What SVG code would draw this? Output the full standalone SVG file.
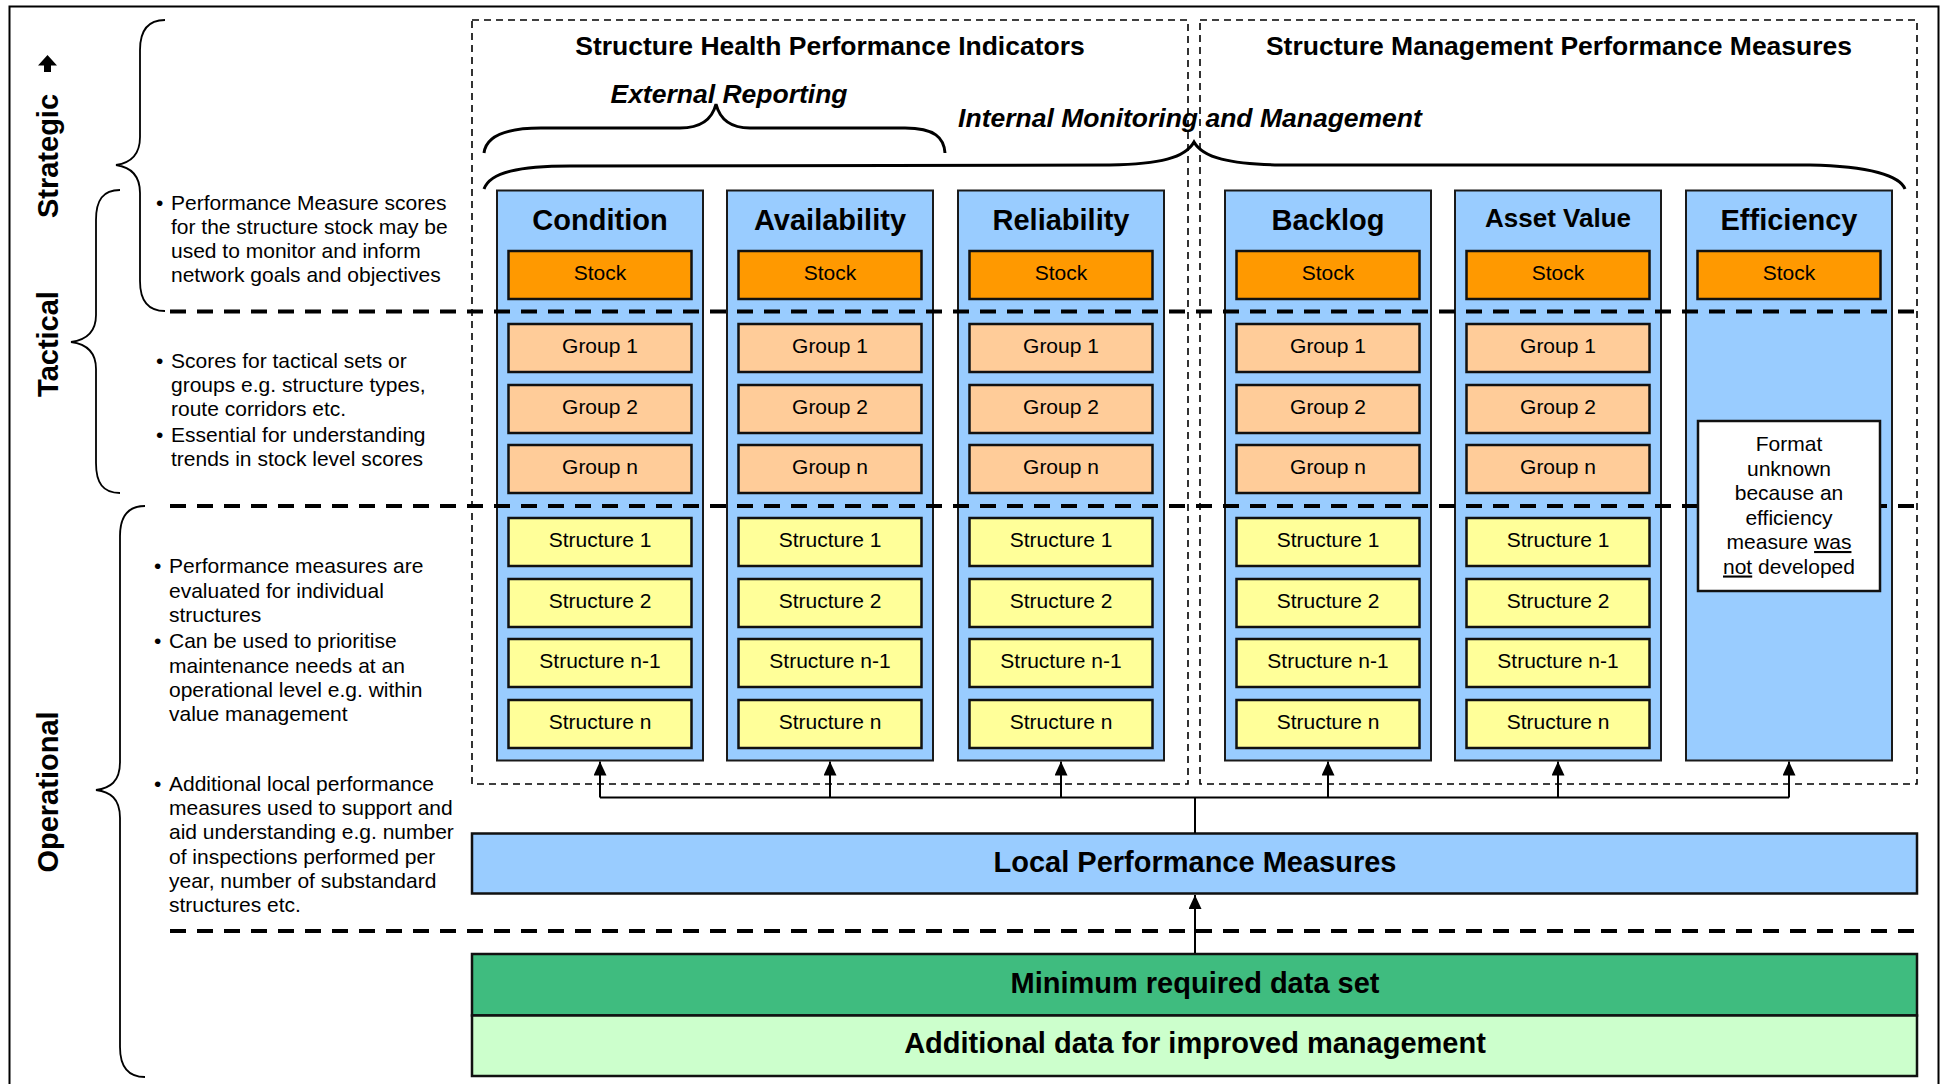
<svg xmlns="http://www.w3.org/2000/svg" width="1943" height="1084" viewBox="0 0 1943 1084">
<style>
text{font-family:"Liberation Sans",Arial,sans-serif;fill:#000}
.col{fill:#99CCFF;stroke:#1a1a1a;stroke-width:2}
.stock{fill:#FF9900;stroke:#111;stroke-width:2.5}
.grp{fill:#FFCC99;stroke:#111;stroke-width:2.5}
.str{fill:#FFFF99;stroke:#111;stroke-width:2.5}
.hdr{font-size:29px;font-weight:bold;text-anchor:middle}
.lbl{font-size:21px;text-anchor:middle}
.bul{font-size:21px}
.thin{fill:none;stroke:#000;stroke-width:1.6;stroke-dasharray:7 5}
.thick{stroke:#000;stroke-width:4;stroke-dasharray:16 11;fill:none}
.brace{fill:none;stroke:#000;stroke-width:3}
.vbrace{fill:none;stroke:#000;stroke-width:1.8}
.conn{fill:none;stroke:#000;stroke-width:2}
.side{font-size:29px;font-weight:bold;text-anchor:middle}
.title{font-size:26.5px;font-weight:bold;text-anchor:middle}
.ital{font-size:26.5px;font-weight:bold;font-style:italic;text-anchor:middle}
.big{font-size:29px;font-weight:bold;text-anchor:middle}
</style>
<defs>
<marker id="arr" markerUnits="userSpaceOnUse" markerWidth="14" markerHeight="13" viewBox="0 0 14 13" refX="14" refY="6.5" orient="auto">
<path d="M0,0 L14,6.5 L0,13 z" fill="#000"/>
</marker>
</defs>

<rect x="9.5" y="6.5" width="1929" height="1100" fill="none" stroke="#000" stroke-width="2"/>

<g id="frames">
<rect class="thin" x="472" y="20" width="716" height="764"/>
<rect class="thin" x="1200" y="20" width="717" height="764"/>
</g>

<g id="left-labels">
<text class="side" transform="translate(58,156) rotate(-90)">Strategic</text>
<polygon points="47.5,55 57,65.5 51,65.5 51,72 44,72 44,65.5 38,65.5" fill="#000"/>
<text class="side" transform="translate(58,344) rotate(-90)">Tactical</text>
<text class="side" transform="translate(58,792) rotate(-90)">Operational</text>
</g>

<g id="side-braces">
<path class="vbrace" d="M165,20 C148,20 140,30 140,50 L140,137 C140,156 130,163 116,165 C130,167 140,174 140,193 L140,281 C140,301 148,311 165,311"/>
<path class="vbrace" d="M120,190 C103,190 96,200 96,220 L96,315 C96,333 86,340 71,342 C86,344 96,351 96,369 L96,463 C96,483 103,493 120,493"/>
<path class="vbrace" d="M145,506 C128,506 120,516 120,536 L120,762 C120,782 110,788 96,790 C110,792 120,798 120,818 L120,1047 C120,1067 128,1077 145,1077"/>
</g>

<g id="bullets">
<text class="bul"><tspan x="156" y="209.5">•</tspan><tspan x="171" y="209.5">Performance Measure scores</tspan><tspan x="171" y="233.7">for the structure stock may be</tspan><tspan x="171" y="257.9">used to monitor and inform</tspan><tspan x="171" y="282.1">network goals and objectives</tspan></text>
<text class="bul"><tspan x="156" y="367.7">•</tspan><tspan x="171" y="367.7">Scores for tactical sets or</tspan><tspan x="171" y="391.9">groups e.g. structure types,</tspan><tspan x="171" y="416.1">route corridors etc.</tspan><tspan x="156" y="442">•</tspan><tspan x="171" y="442">Essential for understanding</tspan><tspan x="171" y="466.2">trends in stock level scores</tspan></text>
<text class="bul"><tspan x="154" y="573.3">•</tspan><tspan x="169" y="573.3">Performance measures are</tspan><tspan x="169" y="597.6">evaluated for individual</tspan><tspan x="169" y="621.9">structures</tspan><tspan x="154" y="648.3">•</tspan><tspan x="169" y="648.3">Can be used to prioritise</tspan><tspan x="169" y="672.6">maintenance needs at an</tspan><tspan x="169" y="696.9">operational level e.g. within</tspan><tspan x="169" y="721.2">value management</tspan></text>
<text class="bul"><tspan x="154" y="790.7">•</tspan><tspan x="169" y="790.7">Additional local performance</tspan><tspan x="169" y="815">measures used to support and</tspan><tspan x="169" y="839.3">aid understanding e.g. number</tspan><tspan x="169" y="863.6">of inspections performed per</tspan><tspan x="169" y="887.9">year, number of substandard</tspan><tspan x="169" y="912.2">structures etc.</tspan></text>
</g>

<g id="headings">
<text class="title" x="830" y="55">Structure Health Performance Indicators</text>
<text class="title" x="1559" y="55">Structure Management Performance Measures</text>
<text class="ital" x="729" y="103">External Reporting</text>
<text class="ital" x="1190" y="127">Internal Monitoring and Management</text>
</g>

<g id="top-braces">
<path class="brace" d="M484,153 C486,136 505,128 541,128 L680,128 C700,128 712,120 716,104 C720,120 732,128 750,128 L905,128 C935,128 944,138 945,153"/>
<path class="brace" d="M484,189 C490,172 520,166 570,166 L1110,165 C1160,164 1185,158 1194,142 C1203,158 1230,164 1280,165 L1810,165 C1870,166 1900,176 1905,189"/>
</g>

<g id="condition">
<rect class="col" x="497" y="190.5" width="206" height="570"/>
<text class="hdr" x="600" y="230">Condition</text>
<g id="condition-stock"><rect class="stock" x="508.5" y="251" width="183" height="48"/><text class="lbl" x="600" y="280">Stock</text></g>
<g id="condition-g1"><rect class="grp" x="508.5" y="324" width="183" height="48"/><text class="lbl" x="600" y="353">Group 1</text></g>
<g id="condition-g2"><rect class="grp" x="508.5" y="385" width="183" height="48"/><text class="lbl" x="600" y="414">Group 2</text></g>
<g id="condition-gn"><rect class="grp" x="508.5" y="445" width="183" height="48"/><text class="lbl" x="600" y="474">Group n</text></g>
<g id="condition-s1"><rect class="str" x="508.5" y="518" width="183" height="48"/><text class="lbl" x="600" y="547">Structure 1</text></g>
<g id="condition-s2"><rect class="str" x="508.5" y="579" width="183" height="48"/><text class="lbl" x="600" y="608">Structure 2</text></g>
<g id="condition-sn1"><rect class="str" x="508.5" y="639" width="183" height="48"/><text class="lbl" x="600" y="668">Structure n-1</text></g>
<g id="condition-sn"><rect class="str" x="508.5" y="700" width="183" height="48"/><text class="lbl" x="600" y="729">Structure n</text></g>
</g>

<g id="availability">
<rect class="col" x="727" y="190.5" width="206" height="570"/>
<text class="hdr" x="830" y="230">Availability</text>
<g id="availability-stock"><rect class="stock" x="738.5" y="251" width="183" height="48"/><text class="lbl" x="830" y="280">Stock</text></g>
<g id="availability-g1"><rect class="grp" x="738.5" y="324" width="183" height="48"/><text class="lbl" x="830" y="353">Group 1</text></g>
<g id="availability-g2"><rect class="grp" x="738.5" y="385" width="183" height="48"/><text class="lbl" x="830" y="414">Group 2</text></g>
<g id="availability-gn"><rect class="grp" x="738.5" y="445" width="183" height="48"/><text class="lbl" x="830" y="474">Group n</text></g>
<g id="availability-s1"><rect class="str" x="738.5" y="518" width="183" height="48"/><text class="lbl" x="830" y="547">Structure 1</text></g>
<g id="availability-s2"><rect class="str" x="738.5" y="579" width="183" height="48"/><text class="lbl" x="830" y="608">Structure 2</text></g>
<g id="availability-sn1"><rect class="str" x="738.5" y="639" width="183" height="48"/><text class="lbl" x="830" y="668">Structure n-1</text></g>
<g id="availability-sn"><rect class="str" x="738.5" y="700" width="183" height="48"/><text class="lbl" x="830" y="729">Structure n</text></g>
</g>

<g id="reliability">
<rect class="col" x="958" y="190.5" width="206" height="570"/>
<text class="hdr" x="1061" y="230">Reliability</text>
<g id="reliability-stock"><rect class="stock" x="969.5" y="251" width="183" height="48"/><text class="lbl" x="1061" y="280">Stock</text></g>
<g id="reliability-g1"><rect class="grp" x="969.5" y="324" width="183" height="48"/><text class="lbl" x="1061" y="353">Group 1</text></g>
<g id="reliability-g2"><rect class="grp" x="969.5" y="385" width="183" height="48"/><text class="lbl" x="1061" y="414">Group 2</text></g>
<g id="reliability-gn"><rect class="grp" x="969.5" y="445" width="183" height="48"/><text class="lbl" x="1061" y="474">Group n</text></g>
<g id="reliability-s1"><rect class="str" x="969.5" y="518" width="183" height="48"/><text class="lbl" x="1061" y="547">Structure 1</text></g>
<g id="reliability-s2"><rect class="str" x="969.5" y="579" width="183" height="48"/><text class="lbl" x="1061" y="608">Structure 2</text></g>
<g id="reliability-sn1"><rect class="str" x="969.5" y="639" width="183" height="48"/><text class="lbl" x="1061" y="668">Structure n-1</text></g>
<g id="reliability-sn"><rect class="str" x="969.5" y="700" width="183" height="48"/><text class="lbl" x="1061" y="729">Structure n</text></g>
</g>

<g id="backlog">
<rect class="col" x="1225" y="190.5" width="206" height="570"/>
<text class="hdr" x="1328" y="230">Backlog</text>
<g id="backlog-stock"><rect class="stock" x="1236.5" y="251" width="183" height="48"/><text class="lbl" x="1328" y="280">Stock</text></g>
<g id="backlog-g1"><rect class="grp" x="1236.5" y="324" width="183" height="48"/><text class="lbl" x="1328" y="353">Group 1</text></g>
<g id="backlog-g2"><rect class="grp" x="1236.5" y="385" width="183" height="48"/><text class="lbl" x="1328" y="414">Group 2</text></g>
<g id="backlog-gn"><rect class="grp" x="1236.5" y="445" width="183" height="48"/><text class="lbl" x="1328" y="474">Group n</text></g>
<g id="backlog-s1"><rect class="str" x="1236.5" y="518" width="183" height="48"/><text class="lbl" x="1328" y="547">Structure 1</text></g>
<g id="backlog-s2"><rect class="str" x="1236.5" y="579" width="183" height="48"/><text class="lbl" x="1328" y="608">Structure 2</text></g>
<g id="backlog-sn1"><rect class="str" x="1236.5" y="639" width="183" height="48"/><text class="lbl" x="1328" y="668">Structure n-1</text></g>
<g id="backlog-sn"><rect class="str" x="1236.5" y="700" width="183" height="48"/><text class="lbl" x="1328" y="729">Structure n</text></g>
</g>

<g id="asset-value">
<rect class="col" x="1455" y="190.5" width="206" height="570"/>
<text class="hdr" x="1558" y="227" style="font-size:26px">Asset Value</text>
<g id="asset-value-stock"><rect class="stock" x="1466.5" y="251" width="183" height="48"/><text class="lbl" x="1558" y="280">Stock</text></g>
<g id="asset-value-g1"><rect class="grp" x="1466.5" y="324" width="183" height="48"/><text class="lbl" x="1558" y="353">Group 1</text></g>
<g id="asset-value-g2"><rect class="grp" x="1466.5" y="385" width="183" height="48"/><text class="lbl" x="1558" y="414">Group 2</text></g>
<g id="asset-value-gn"><rect class="grp" x="1466.5" y="445" width="183" height="48"/><text class="lbl" x="1558" y="474">Group n</text></g>
<g id="asset-value-s1"><rect class="str" x="1466.5" y="518" width="183" height="48"/><text class="lbl" x="1558" y="547">Structure 1</text></g>
<g id="asset-value-s2"><rect class="str" x="1466.5" y="579" width="183" height="48"/><text class="lbl" x="1558" y="608">Structure 2</text></g>
<g id="asset-value-sn1"><rect class="str" x="1466.5" y="639" width="183" height="48"/><text class="lbl" x="1558" y="668">Structure n-1</text></g>
<g id="asset-value-sn"><rect class="str" x="1466.5" y="700" width="183" height="48"/><text class="lbl" x="1558" y="729">Structure n</text></g>
</g>

<g id="efficiency">
<rect class="col" x="1686" y="190.5" width="206" height="570"/>
<text class="hdr" x="1789" y="230">Efficiency</text>
<g id="efficiency-stock"><rect class="stock" x="1697.5" y="251" width="183" height="48"/><text class="lbl" x="1789" y="280">Stock</text></g>
</g>

<g id="level-dividers">
<line class="thick" x1="170" y1="311.5" x2="1922" y2="311.5"/>
<line class="thick" x1="170" y1="506" x2="1922" y2="506"/>
<line class="thick" x1="170" y1="931" x2="1922" y2="931"/>
</g>

<g id="efficiency-note">
<rect x="1698" y="421" width="182" height="170" fill="#fff" stroke="#111" stroke-width="2.5"/>
<text class="lbl"><tspan x="1789" y="451">Format</tspan><tspan x="1789" y="475.5">unknown</tspan><tspan x="1789" y="500">because an</tspan><tspan x="1789" y="524.5">efficiency</tspan><tspan x="1789" y="549">measure <tspan text-decoration="underline">was</tspan></tspan><tspan x="1789" y="573.5"><tspan text-decoration="underline">not</tspan> developed</tspan></text>
</g>

<g id="local-performance-measures">
<rect x="472" y="833.5" width="1445" height="60" fill="#99CCFF" stroke="#111" stroke-width="2.5"/>
<text class="big" x="1195" y="871.5">Local Performance Measures</text>
</g>

<g id="minimum-data">
<rect x="472" y="954" width="1445" height="61.5" fill="#3FBC7F" stroke="#111" stroke-width="2.5"/>
<text class="big" x="1195" y="993">Minimum required data set</text>
</g>

<g id="additional-data">
<rect x="472" y="1015.5" width="1445" height="60.5" fill="#CCFFCC" stroke="#111" stroke-width="2.5"/>
<text class="big" x="1195" y="1053">Additional data for improved management</text>
</g>

<g id="connectors">
<line class="conn" x1="600" y1="797.5" x2="1789" y2="797.5"/>
<line class="conn" x1="1195" y1="833" x2="1195" y2="797.5"/>
<line class="conn" x1="600" y1="797.5" x2="600" y2="761.5" marker-end="url(#arr)"/>
<line class="conn" x1="830" y1="797.5" x2="830" y2="761.5" marker-end="url(#arr)"/>
<line class="conn" x1="1061" y1="797.5" x2="1061" y2="761.5" marker-end="url(#arr)"/>
<line class="conn" x1="1328" y1="797.5" x2="1328" y2="761.5" marker-end="url(#arr)"/>
<line class="conn" x1="1558" y1="797.5" x2="1558" y2="761.5" marker-end="url(#arr)"/>
<line class="conn" x1="1789" y1="797.5" x2="1789" y2="761.5" marker-end="url(#arr)"/>
<line class="conn" x1="1195" y1="953" x2="1195" y2="895" marker-end="url(#arr)"/>
</g>
</svg>
